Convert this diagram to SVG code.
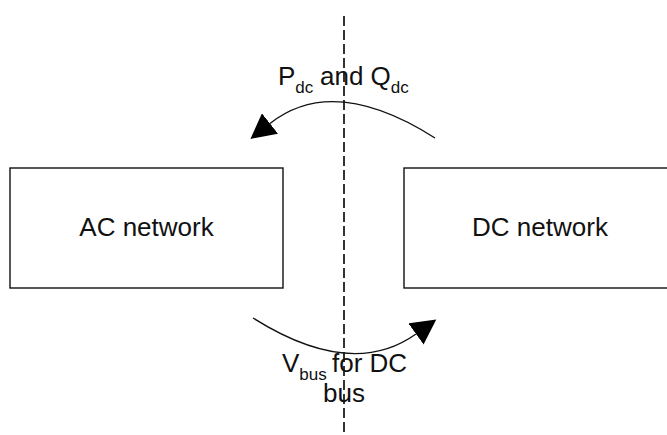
<svg xmlns="http://www.w3.org/2000/svg" width="667" height="435" viewBox="0 0 667 435">
<style>
.box{fill:#fff;stroke:#111;stroke-width:1.4}
.lbl{font-family:"Liberation Sans",Arial,sans-serif;font-size:26px;fill:#111}
.sub{font-size:17px}
.arc{fill:none;stroke:#111;stroke-width:1.4}
.axis{stroke:#333;stroke-width:2;stroke-dasharray:10 4}
</style>
<defs>
<marker id="ah" markerUnits="userSpaceOnUse" markerWidth="26" markerHeight="26" refX="0" refY="12" orient="auto" viewBox="0 0 24 24">
<path d="M0,0 L23,12 L0,24 Z" fill="#000"/>
</marker>
</defs>
<rect width="667" height="435" fill="#fff"/>
<g id="ac-network">
<rect class="box" x="10" y="168" width="273" height="120"/>
<text class="lbl" x="146.5" y="236" text-anchor="middle">AC network</text>
</g>
<g id="dc-network">
<rect class="box" x="404" y="168" width="280" height="120"/>
<text class="lbl" x="540" y="236" text-anchor="middle">DC network</text>
</g>
<g id="connectors">
<line class="axis" x1="344" y1="16" x2="344" y2="435"/>
<path class="arc" d="M435,138 Q333.5,73.5 270,123.5" marker-end="url(#ah)"/>
<path class="arc" d="M253,318 Q351.5,380 416,334" marker-end="url(#ah)"/>
</g>
<g id="labels">
<text class="lbl" x="278" y="85">P<tspan class="sub" dy="8">dc</tspan><tspan dy="-8" x="320">and Q</tspan><tspan class="sub" dy="8">dc</tspan></text>
<text class="lbl" x="282" y="372">V<tspan class="sub" dy="8">bus</tspan><tspan dy="-8" x="332">for DC</tspan></text>
<text class="lbl" x="344" y="402" text-anchor="middle">bus</text>
</g>
</svg>
